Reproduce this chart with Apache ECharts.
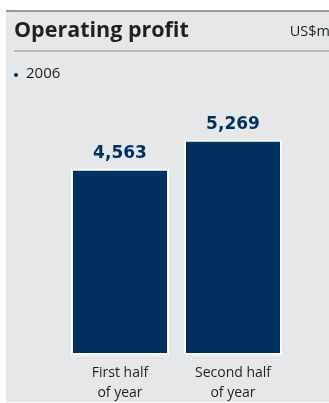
<!DOCTYPE html>
<html>
<head>
<meta charset="utf-8">
<script src="https://cdn.jsdelivr.net/npm/echarts@6/dist/echarts.min.js"></script>
<style>
  html, body { margin: 0; padding: 0; background: #ffffff; }
  #chart { width: 329px; height: 403px; }
</style>
</head>
<body>
<div id="chart"></div>
<script>
// Operating profit by half-year, 2006 (US$m)
const categories = ['First half\nof year', 'Second half\nof year'];
const profit2006 = [4563, 5269];
const seriesName = '2006';

const NAVY = '#00305f';
const chart = echarts.init(document.getElementById('chart'), null, { renderer: 'canvas' });

chart.setOption({
  animation: false,
  backgroundColor: '#ffffff',
  graphic: [
    // panel background
    { type: 'rect', z: -10, shape: { x: 6, y: 10, width: 323, height: 392 }, style: { fill: '#e6e7e8' } },
    // top rule
    { type: 'rect', z: -9, shape: { x: 6, y: 10, width: 323, height: 2 }, style: { fill: '#9a9b9d' } },
    // header rule
    { type: 'rect', z: -9, shape: { x: 14, y: 50.5, width: 315, height: 1 }, style: { fill: '#8a8b8d' } },
    { type: 'text', style: { x: 14, y: 31, text: 'Operating profit', fill: '#231f20',
        font: 'bold 21.5px "Open Sans", sans-serif', verticalAlign: 'middle' } },
    { type: 'text', style: { x: 330, y: 32, text: 'US$m', fill: '#231f20', align: 'right',
        font: '14.5px "Open Sans", sans-serif', verticalAlign: 'middle' } },
    { type: 'circle', shape: { cx: 16, cy: 75, r: 2 }, style: { fill: NAVY } },
    { type: 'text', style: { x: 26, y: 74, text: seriesName, fill: '#231f20',
        font: '15px "Open Sans", sans-serif', verticalAlign: 'middle' } }
  ],
  grid: { left: 63.5, right: 39.5, top: 110, bottom: 45 },
  xAxis: {
    type: 'category',
    data: categories,
    axisLine: { show: false },
    axisTick: { show: false },
    axisLabel: {
      margin: 8,
      color: '#231f20',
      fontFamily: '"Open Sans", sans-serif',
      fontSize: 14,
      lineHeight: 20
    }
  },
  yAxis: {
    type: 'value',
    min: 0,
    max: 6000,
    show: false,
    splitLine: { show: false }
  },
  series: [{
    name: seriesName,
    type: 'bar',
    data: profit2006,
    barWidth: 98,
    itemStyle: { color: NAVY, borderColor: '#ffffff', borderWidth: 2 },
    label: {
      show: true,
      position: 'top',
      distance: 7,
      color: NAVY,
      fontFamily: '"DejaVu Sans", sans-serif',
      fontWeight: 'bold',
      fontSize: 17,
      formatter: p => p.value.toLocaleString('en-US')
    }
  }]
});
</script>
</body>
</html>
